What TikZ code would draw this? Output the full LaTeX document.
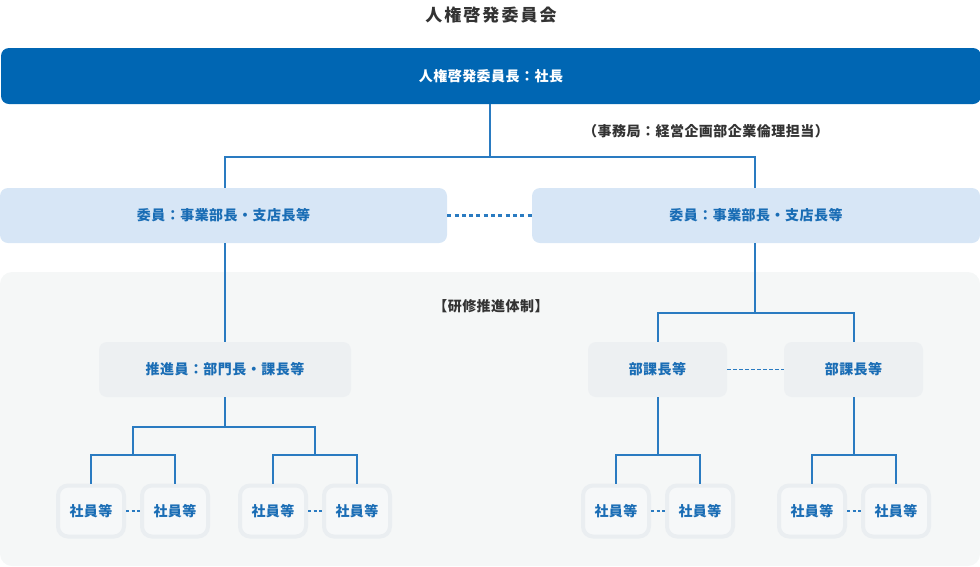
\documentclass[tikz,border=0pt]{standalone}
\usepackage{fontspec}
\setmainfont{Noto Sans CJK JP}
\definecolor{barblue}{HTML}{0066B3}
\definecolor{lightblue}{HTML}{D7E6F6}
\definecolor{textblue}{HTML}{1A6DB5}
\definecolor{lineblue}{HTML}{2A7BC1}
\definecolor{panelgray}{HTML}{F5F7F7}
\definecolor{graybox}{HTML}{EDF0F2}
\definecolor{smborder}{HTML}{EAEEF1}
\definecolor{smfill}{HTML}{F6F8F9}
\definecolor{darktext}{HTML}{333333}
\newcommand{\bodyfont}{\bfseries\fontsize{14}{16}\selectfont\addfontfeature{LetterSpace=3.5}}
\newcommand{\titlefont}{\bfseries\fontsize{17}{19}\selectfont\addfontfeature{LetterSpace=12}}
\begin{document}
\begin{tikzpicture}[x=1pt,y=-1pt,
  lbl/.style={font=\bodyfont, inner sep=0pt},
  bar/.style={lbl, fill=barblue, rounded corners=8pt, minimum width=980pt, minimum height=56pt, text=white},
  iinbox/.style={lbl, fill=lightblue, rounded corners=8pt, minimum height=55pt, text=textblue},
  graybx/.style={lbl, fill=graybox, rounded corners=8pt, minimum height=55pt, text=textblue},
  smbox/.style={lbl, draw=smborder, line width=4pt, fill=smfill, rounded corners=10pt, minimum width=66pt, minimum height=51pt, text=textblue},
  conn/.style={draw=lineblue, line width=2pt},
  dotconn/.style={draw=lineblue, line width=2.2pt, dash pattern=on 4pt off 3.3pt},
  smdot/.style={draw=lineblue, line width=2pt, dash pattern=on 3pt off 2.5pt},
  thindash/.style={draw=lineblue, line width=1pt, dash pattern=on 3.3pt off 2.7pt},
  darklbl/.style={font=\bodyfont, text=darktext, inner sep=0pt}
]
\useasboundingbox (0,0) rectangle (980,566);
% background panel
\fill[panelgray, rounded corners=12pt] (0,272) rectangle (980,566);

\node[darklbl, font=\titlefont] (title) at (491,15) {人権啓発委員会};
\node[bar] (top) at (491,76) {人権啓発委員長：社長};
\node[darklbl] (sec) at (706,131) {（事務局：経営企画部企業倫理担当）};

\node[iinbox, minimum width=447pt] (iinL) at (223.5,215.5) {委員：事業部長・支店長等};
\node[iinbox, minimum width=448pt] (iinR) at (756,215.5) {委員：事業部長・支店長等};

\node[darklbl] (kenshu) at (491,306) {【研修推進体制】};

\node[graybx, minimum width=252pt] (suishin) at (225,369.5) {推進員：部門長・課長等};
\node[graybx, minimum width=139pt] (bukaL) at (657.5,369.5) {部課長等};
\node[graybx, minimum width=139pt] (bukaR) at (853.5,369.5) {部課長等};

\foreach \n/\x in {s1/91,s2/175,s3/273,s4/357,s5/616,s6/700,s7/812,s8/896}
  \node[smbox] (\n) at (\x,511) {社員等};

% junction coordinates
\coordinate (j1) at (490,157);
\coordinate (j2) at (755,313);
\coordinate (j3) at (225,427);
\coordinate (g1) at (133,455);
\coordinate (g2) at (315,455);
\coordinate (g3) at (657.5,455);
\coordinate (g4) at (853.5,455);

% connectors
\draw[conn] (top.south -| j1) -- (j1);
\draw[conn] (iinL.north -| suishin.north) |- (j1) -| (iinR.north -| j2);
\draw[dotconn] (iinL.east) -- (iinR.west);
\draw[conn] (iinL.south -| suishin.north) -- (suishin.north);
\draw[conn] (iinR.south -| j2) -- (j2);
\draw[conn] (bukaL.north) |- (j2) -| (bukaR.north);
\draw[thindash] (bukaL.east) -- (bukaR.west);

\draw[conn] (suishin.south) -- (j3);
\draw[conn] (g1) |- (j3) -| (g2);
\draw[conn] (s1.north) |- (g1) -| (s2.north);
\draw[conn] (s3.north) |- (g2) -| (s4.north);
\draw[conn] (bukaL.south) -- (g3);
\draw[conn] (s5.north) |- (g3) -| (s6.north);
\draw[conn] (bukaR.south) -- (g4);
\draw[conn] (s7.north) |- (g4) -| (s8.north);

\draw[smdot] (s1.east) -- (s2.west);
\draw[smdot] (s3.east) -- (s4.west);
\draw[smdot] (s5.east) -- (s6.west);
\draw[smdot] (s7.east) -- (s8.west);
\end{tikzpicture}
\end{document}
